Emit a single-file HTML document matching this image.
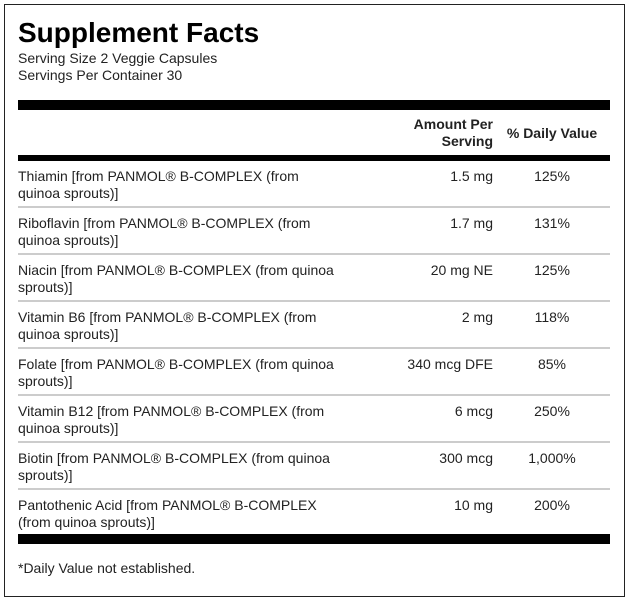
<!DOCTYPE html>
<html><head><meta charset="utf-8"><style>
body{margin:0;width:629px;height:602px;background:#fff;font-family:"Liberation Sans",Arial,sans-serif;color:#222;position:relative;overflow:hidden}
.a{position:absolute}
.t{font-size:14px;line-height:17px}
</style></head><body>
<div class="a" style="left:4px;top:4px;width:619px;height:591px;border:1px solid #222"></div>
<div class="a" style="left:18px;top:17px;font-size:28px;font-weight:bold;color:#000;line-height:32px">Supplement Facts</div>
<div class="a t" style="left:18px;top:50px">Serving Size 2 Veggie Capsules</div>
<div class="a t" style="left:18px;top:67px">Servings Per Container 30</div>
<div class="a" style="left:18px;top:100px;width:592px;height:10px;background:#000"></div>
<div class="a t" style="left:380px;width:113px;top:116px;text-align:right;font-weight:bold">Amount Per<br>Serving</div>
<div class="a t" style="left:500px;width:104px;top:125px;text-align:center;font-weight:bold">% Daily Value</div>
<div class="a" style="left:18px;top:155px;width:592px;height:6px;background:#000"></div>
<div id="rows"></div>
<div class="a" style="left:18px;top:534px;width:592px;height:10px;background:#000"></div>
<div class="a t" style="left:18px;top:560px">*Daily Value not established.</div>
<script>
const names=["Thiamin [from PANMOL® B-COMPLEX (from<br>quinoa sprouts)]","Riboflavin [from PANMOL® B-COMPLEX (from<br>quinoa sprouts)]","Niacin [from PANMOL® B-COMPLEX (from quinoa<br>sprouts)]","Vitamin B6 [from PANMOL® B-COMPLEX (from<br>quinoa sprouts)]","Folate [from PANMOL® B-COMPLEX (from quinoa<br>sprouts)]","Vitamin B12 [from PANMOL® B-COMPLEX (from<br>quinoa sprouts)]","Biotin [from PANMOL® B-COMPLEX (from quinoa<br>sprouts)]","Pantothenic Acid [from PANMOL® B-COMPLEX<br>(from quinoa sprouts)]"];
const amounts=["1.5 mg","1.7 mg","20 mg NE","2 mg","340 mcg DFE","6 mcg","300 mcg","10 mg"];
const dvs=["125%","131%","125%","118%","85%","250%","1,000%","200%"];
const c=document.getElementById('rows');
names.forEach((n,i)=>{
 const top=161+47*i;
 const r=document.createElement('div');
 
 
 r.className='a';r.style.cssText=`left:0;top:${top}px;width:629px;height:47px`;
 r.innerHTML=`<div class="a t" style="left:18px;top:7px">${n}</div>
 <div class="a t" style="left:360px;width:133px;top:7px;text-align:right">${amounts[i]}</div>
 <div class="a t" style="left:500px;width:104px;top:7px;text-align:center">${dvs[i]}</div>`+
 (i<names.length-1?`<div class="a" style="left:18px;top:45px;width:592px;height:2px;background:#ccc"></div>`:'');
 c.appendChild(r);
});
</script>
</body></html>
